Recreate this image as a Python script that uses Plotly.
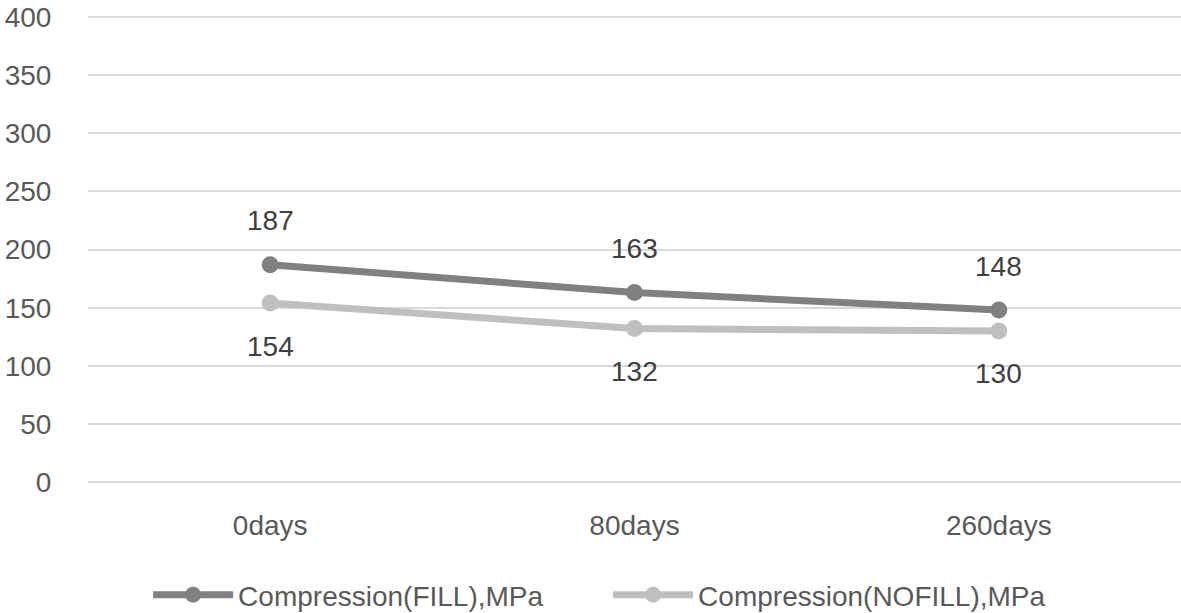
import plotly.graph_objects as go

categories = ["0days", "80days", "260days"]
fill_values = [187, 163, 148]
nofill_values = [154, 132, 130]
fill_name = "Compression(FILL),MPa"
nofill_name = "Compression(NOFILL),MPa"
y_ticks = [0, 50, 100, 150, 200, 250, 300, 350, 400]

FONT = "Liberation Sans"
fig = go.Figure()
fig.add_trace(go.Scatter(
    x=categories, y=fill_values, name=fill_name, mode="lines+markers",
    line=dict(color="#808080", width=7), marker=dict(size=17, color="#808080"),
))
fig.add_trace(go.Scatter(
    x=categories, y=nofill_values, name=nofill_name, mode="lines+markers",
    line=dict(color="#bfbfbf", width=7), marker=dict(size=17, color="#bfbfbf"),
))

for c, v in zip(categories, fill_values):
    fig.add_annotation(x=c, y=v, text=str(v), showarrow=False, yshift=44,
                       font=dict(size=28, color="#404040", family=FONT))
for c, v in zip(categories, nofill_values):
    fig.add_annotation(x=c, y=v, text=str(v), showarrow=False, yshift=-43,
                       font=dict(size=28, color="#404040", family=FONT))

fig.update_layout(
    width=1181, height=613,
    margin=dict(l=88, r=0, t=16, b=131, autoexpand=False),
    paper_bgcolor="white", plot_bgcolor="white",
    font=dict(family=FONT, size=28, color="#595959"),
    showlegend=True,
    legend=dict(orientation="h", x=0.055, xanchor="left", y=-0.2425, yanchor="middle",
                font=dict(size=28, color="#595959"), itemwidth=80,
                entrywidth=365, entrywidthmode="pixels",
                traceorder="normal"),
)
fig.update_xaxes(type="category", range=[-0.5, 2.5], showgrid=False, showline=False,
                 automargin=False,
                 ticks="outside", ticklen=18, tickcolor="rgba(0,0,0,0)",
                 tickfont=dict(size=28, color="#595959"))
fig.update_yaxes(range=[0, 401], tickvals=y_ticks, showgrid=True, gridcolor="#d9d9d9",
                 automargin=False, ticklabeloverflow="allow",
                 gridwidth=2, zeroline=True, zerolinecolor="#d9d9d9", zerolinewidth=2,
                 showline=False, ticks="outside", ticklen=30, tickcolor="rgba(0,0,0,0)",
                 tickfont=dict(size=28, color="#595959"))

fig.write_html("out.html", config={"displayModeBar": False},
               post_script="document.body.style.margin='0px';document.body.style.overflow='hidden';")
